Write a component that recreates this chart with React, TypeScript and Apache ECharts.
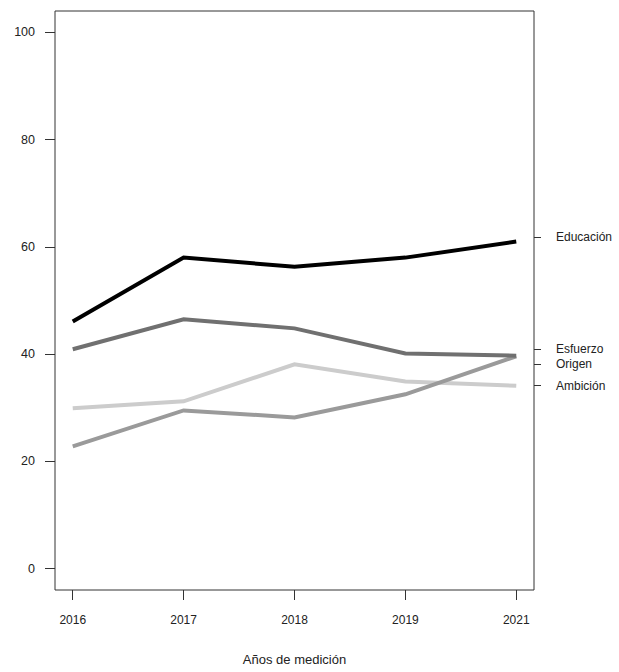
import React, { useEffect, useRef } from "react";
import * as echarts from "echarts";

const years = ["2016", "2017", "2018", "2019", "2021"];
const educacion = [46.1, 58.0, 56.3, 58.0, 61.0];
const esfuerzo = [40.9, 46.5, 44.8, 40.1, 39.7];
const origen = [22.8, 29.5, 28.2, 32.5, 39.6];
const ambicion = [29.9, 31.2, 38.1, 34.9, 34.1];
const yTicks = [0, 20, 40, 60, 80, 100];
const seriesNames = ["Educación", "Esfuerzo", "Origen", "Ambición"];

export default function App() {
  const ref = useRef<HTMLDivElement>(null);
  useEffect(() => {
    if (!ref.current) return;
    const chart = echarts.init(ref.current, undefined, { renderer: "svg" });
    const font = "Liberation Sans, Arial, sans-serif";
    const toPts = (arr: number[]) => arr.map((v, i) => [i, v]);
    // right-margin label anchor values (spread to avoid overlap)
    const rightLabelPos = [61.8, 41.0, 38.2, 34.1];
    const mk = (name: string, data: number[], color: string, z: number) => ({
      name,
      type: "line",
      data: toPts(data),
      showSymbol: false,
      symbol: "none",
      z,
      lineStyle: { color, width: 4, cap: "butt", join: "miter" },
    });
    chart.setOption({
      animation: false,
      backgroundColor: "#fff",
      textStyle: { fontFamily: font },
      grid: {
        left: 55,
        right: 85,
        top: 11,
        bottom: 82,
        containLabel: false,
        outerBoundsMode: "none",
        show: true,
        borderColor: "#333",
        borderWidth: 1,
        backgroundColor: "transparent",
      },
      xAxis: {
        type: "value",
        min: -0.16,
        max: 4.16,
        name: "Años de medición",
        nameLocation: "middle",
        nameGap: 63,
        nameTextStyle: { fontSize: 13, color: "#222", fontFamily: font },
        axisLine: { show: false, onZero: false },
        splitLine: { show: false },
        axisTick: {
          show: true,
          length: 10,
          inside: false,
          customValues: [0, 1, 2, 3, 4],
          lineStyle: { color: "#333", width: 1 },
        },
        axisLabel: {
          customValues: [0, 1, 2, 3, 4],
          margin: 24,
          fontSize: 12,
          color: "#222",
          fontFamily: font,
          formatter: (v: number) => years[Math.round(v)] ?? "",
        },
      },
      yAxis: [
        {
          type: "value",
          min: -4,
          max: 104,
          position: "left",
          axisLine: { show: false, onZero: false },
          splitLine: { show: false },
          axisTick: {
            show: true,
            length: 10,
            customValues: yTicks,
            lineStyle: { color: "#333", width: 1 },
          },
          axisLabel: {
            customValues: yTicks,
            margin: 20,
            fontSize: 12.5,
            color: "#222",
            fontFamily: font,
          },
        },
        {
          type: "value",
          min: -4,
          max: 104,
          position: "right",
          axisLine: { show: false, onZero: false },
          splitLine: { show: false },
          axisTick: {
            show: true,
            length: 7,
            customValues: rightLabelPos,
            lineStyle: { color: "#333", width: 1 },
          },
          axisLabel: {
            customValues: rightLabelPos,
            margin: 22,
            fontSize: 12,
            color: "#222",
            fontFamily: font,
            formatter: (v: number) => {
              let best = 0;
              let bd = Infinity;
              rightLabelPos.forEach((p, i) => {
                const d = Math.abs(p - v);
                if (d < bd) {
                  bd = d;
                  best = i;
                }
              });
              return seriesNames[best];
            },
          },
        },
      ],
      series: [
        mk("Ambición", ambicion, "#cccccc", 2),
        mk("Origen", origen, "#9a9a9a", 3),
        mk("Esfuerzo", esfuerzo, "#707070", 4),
        mk("Educación", educacion, "#000000", 5),
      ],
    });
    return () => chart.dispose();
  }, []);
  return (
    <div
      ref={ref}
      style={{ position: "absolute", left: 0, top: 0, width: 619, height: 672 }}
    />
  );
}
